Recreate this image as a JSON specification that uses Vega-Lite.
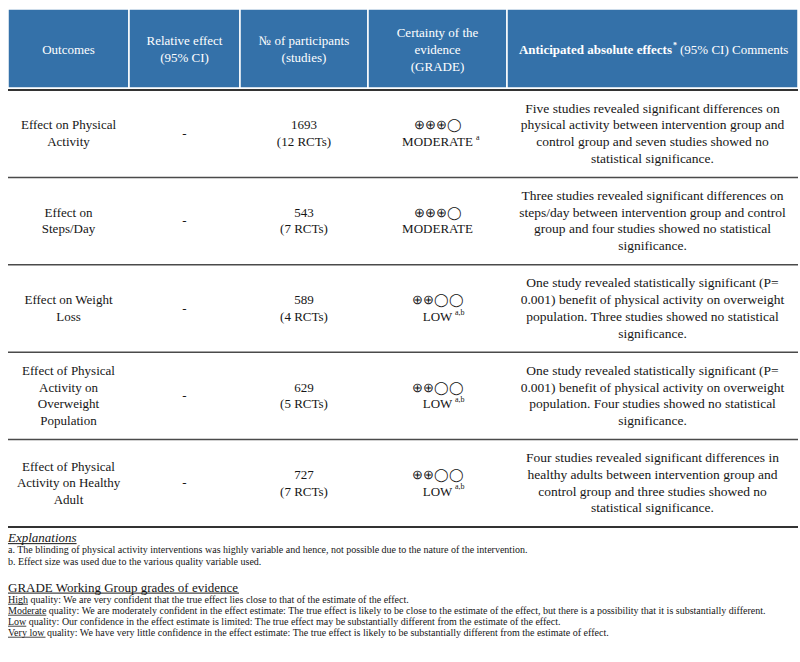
{
  "$schema": "https://vega.github.io/schema/vega-lite/v6.json",
  "background": "white",
  "padding": {"left": 7, "top": 8, "right": 0, "bottom": 0},
  "spacing": 0,
  "config": {
    "font": "Liberation Serif",
    "view": {"stroke": null},
    "concat": {"spacing": 0},
    "text": {"font": "Liberation Serif", "fontSize": 13, "color": "#161616"}
  },
  "datasets": {
    "header": [
      {"col": "outcome", "part": "main", "text": "Outcomes"},
      {"col": "relative", "part": "main", "text": "Relative effect\n(95% CI)"},
      {"col": "participants", "part": "main", "text": "№ of participants\n(studies)"},
      {"col": "certainty", "part": "main", "text": "Certainty of the\nevidence\n(GRADE)"},
      {"col": "comments", "part": "bold", "text": "Anticipated absolute effects"},
      {"col": "comments", "part": "star", "text": "*"},
      {"col": "comments", "part": "rest", "text": "(95% CI) Comments"}
    ],
    "cells": [
      {"row": "r1", "col": "outcome", "text": "Effect on Physical\nActivity"},
      {"row": "r1", "col": "relative", "text": "-"},
      {"row": "r1", "col": "participants", "text": "1693\n(12 RCTs)"},
      {"row": "r1", "col": "certainty", "text": "⊕⊕⊕◯\nMODERATE", "sup": "a"},
      {"row": "r1", "col": "comments", "text": "Five studies revealed significant differences on\nphysical activity between intervention group and\ncontrol group and seven studies showed no\nstatistical significance."},
      {"row": "r2", "col": "outcome", "text": "Effect on\nSteps/Day"},
      {"row": "r2", "col": "relative", "text": "-"},
      {"row": "r2", "col": "participants", "text": "543\n(7 RCTs)"},
      {"row": "r2", "col": "certainty", "text": "⊕⊕⊕◯\nMODERATE", "sup": ""},
      {"row": "r2", "col": "comments", "text": "Three studies revealed significant differences on\nsteps/day between intervention group and control\ngroup and four studies showed no statistical\nsignificance."},
      {"row": "r3", "col": "outcome", "text": "Effect on Weight\nLoss"},
      {"row": "r3", "col": "relative", "text": "-"},
      {"row": "r3", "col": "participants", "text": "589\n(4 RCTs)"},
      {"row": "r3", "col": "certainty", "text": "⊕⊕◯◯\nLOW", "sup": "a,b"},
      {"row": "r3", "col": "comments", "text": "One study revealed statistically significant (P=\n0.001) benefit of physical activity on overweight\npopulation. Three studies showed no statistical\nsignificance."},
      {"row": "r4", "col": "outcome", "text": "Effect of Physical\nActivity on\nOverweight\nPopulation"},
      {"row": "r4", "col": "relative", "text": "-"},
      {"row": "r4", "col": "participants", "text": "629\n(5 RCTs)"},
      {"row": "r4", "col": "certainty", "text": "⊕⊕◯◯\nLOW", "sup": "a,b"},
      {"row": "r4", "col": "comments", "text": "One study revealed statistically significant (P=\n0.001) benefit of physical activity on overweight\npopulation. Four studies showed no statistical\nsignificance."},
      {"row": "r5", "col": "outcome", "text": "Effect of Physical\nActivity on Healthy\nAdult"},
      {"row": "r5", "col": "relative", "text": "-"},
      {"row": "r5", "col": "participants", "text": "727\n(7 RCTs)"},
      {"row": "r5", "col": "certainty", "text": "⊕⊕◯◯\nLOW", "sup": "a,b"},
      {"row": "r5", "col": "comments", "text": "Four studies revealed significant differences in\nhealthy adults between intervention group and\ncontrol group and three studies showed no\nstatistical significance."}
    ],
    "notes": [
      {"block": "expl", "line": "e0", "text": "Explanations"},
      {"block": "expl", "line": "e1", "text": "a. The blinding of physical activity interventions was highly variable and hence, not possible due to the nature of the intervention."},
      {"block": "expl", "line": "e2", "text": "b. Effect size was used due to the various quality variable used."},
      {"block": "grade", "line": "g0", "text": "GRADE Working Group grades of evidence"},
      {"block": "grade", "line": "g1", "text": "High quality: We are very confident that the true effect lies close to that of the estimate of the effect."},
      {"block": "grade", "line": "g2", "text": "Moderate quality: We are moderately confident in the effect estimate: The true effect is likely to be close to the estimate of the effect, but there is a possibility that it is substantially different."},
      {"block": "grade", "line": "g3", "text": "Low quality: Our confidence in the effect estimate is limited: The true effect may be substantially different from the estimate of the effect."},
      {"block": "grade", "line": "g4", "text": "Very low quality: We have very little confidence in the effect estimate: The true effect is likely to be substantially different from the estimate of effect."}
    ]
  },
  "vconcat": [
    {
      "spacing": 0,
      "bounds": "flush",
      "hconcat": [
        {
          "width": 121, "height": 79,
          "view": {"fill": "#3471A9", "stroke": "#ffffff", "strokeWidth": 1.5},
          "data": {"name": "header"},
          "transform": [{"filter": "datum.col == 'outcome'"}],
          "mark": {"type": "text", "color": "#ffffff", "lineBreak": "\n", "lineHeight": 17, "dy": 1},
          "encoding": {"text": {"field": "text", "type": "nominal"}}
        },
        {
          "width": 111, "height": 79,
          "view": {"fill": "#3471A9", "stroke": "#ffffff", "strokeWidth": 1.5},
          "data": {"name": "header"},
          "transform": [{"filter": "datum.col == 'relative'"}],
          "mark": {"type": "text", "color": "#ffffff", "lineBreak": "\n", "lineHeight": 17, "dy": -7.5},
          "encoding": {"text": {"field": "text", "type": "nominal"}}
        },
        {
          "width": 128, "height": 79,
          "view": {"fill": "#3471A9", "stroke": "#ffffff", "strokeWidth": 1.5},
          "data": {"name": "header"},
          "transform": [{"filter": "datum.col == 'participants'"}],
          "mark": {"type": "text", "color": "#ffffff", "lineBreak": "\n", "lineHeight": 17, "dy": -7.5},
          "encoding": {"text": {"field": "text", "type": "nominal"}}
        },
        {
          "width": 139, "height": 79,
          "view": {"fill": "#3471A9", "stroke": "#ffffff", "strokeWidth": 1.5},
          "data": {"name": "header"},
          "transform": [{"filter": "datum.col == 'certainty'"}],
          "mark": {"type": "text", "color": "#ffffff", "lineBreak": "\n", "lineHeight": 17, "dy": -16},
          "encoding": {"text": {"field": "text", "type": "nominal"}}
        },
        {
          "width": 291, "height": 79,
          "view": {"fill": "#3471A9", "stroke": "#ffffff", "strokeWidth": 1.5},
          "data": {"name": "header"},
          "transform": [{"filter": "datum.col == 'comments'"}],
          "layer": [
            {
              "transform": [{"filter": "datum.part == 'bold'"}],
              "mark": {"type": "text", "color": "#ffffff", "fontWeight": "bold", "align": "right", "dx": 19.5, "dy": 1},
              "encoding": {"text": {"field": "text", "type": "nominal"}}
            },
            {
              "transform": [{"filter": "datum.part == 'star'"}],
              "mark": {"type": "text", "color": "#ffffff", "fontWeight": "bold", "fontSize": 8, "align": "left", "dx": 20.5, "dy": -3},
              "encoding": {"text": {"field": "text", "type": "nominal"}}
            },
            {
              "transform": [{"filter": "datum.part == 'rest'"}],
              "mark": {"type": "text", "color": "#ffffff", "align": "left", "dx": 27.5, "dy": 1},
              "encoding": {"text": {"field": "text", "type": "nominal"}}
            }
          ]
        }
      ]
    },
    {
      "spacing": 0,
      "bounds": "flush",
      "hconcat": [
        {
          "width": 121, "height": 437,
          "data": {"name": "cells"},
          "transform": [{"filter": "datum.col == 'outcome'"}],
          "layer": [
            {"transform": [{"filter": "length(split(datum.text, '\\n')) == 2"}],
             "mark": {"type": "text", "lineBreak": "\n", "lineHeight": 16.7, "dy": -8.35},
             "encoding": {"y": {"field": "row", "type": "nominal", "scale": {"type": "band", "domain": ["r1", "r2", "r3", "r4", "r5"], "paddingInner": 0, "paddingOuter": 0}, "axis": null}, "text": {"field": "text", "type": "nominal"}}},
            {"transform": [{"filter": "length(split(datum.text, '\\n')) == 3"}],
             "mark": {"type": "text", "lineBreak": "\n", "lineHeight": 16.7, "dy": -16.7},
             "encoding": {"y": {"field": "row", "type": "nominal", "axis": null}, "text": {"field": "text", "type": "nominal"}}},
            {"transform": [{"filter": "length(split(datum.text, '\\n')) == 4"}],
             "mark": {"type": "text", "lineBreak": "\n", "lineHeight": 16.7, "dy": -25.05},
             "encoding": {"y": {"field": "row", "type": "nominal", "axis": null}, "text": {"field": "text", "type": "nominal"}}},
            {"transform": [{"filter": "datum.row != 'r5'"}], "mark": {"type": "rule", "color": "#4a4a4a", "strokeWidth": 1.5},
             "encoding": {"y": {"field": "row", "type": "nominal", "bandPosition": 1, "axis": null}}},
            {"transform": [{"filter": "datum.row == 'r1'"}], "mark": {"type": "rule", "color": "#333333", "strokeWidth": 2},
             "encoding": {"y": {"field": "row", "type": "nominal", "bandPosition": 0, "axis": null}}},
            {"transform": [{"filter": "datum.row == 'r5'"}], "mark": {"type": "rule", "color": "#333333", "strokeWidth": 2},
             "encoding": {"y": {"field": "row", "type": "nominal", "bandPosition": 1, "axis": null}}}
          ]
        },
        {
          "width": 111, "height": 437,
          "data": {"name": "cells"},
          "transform": [{"filter": "datum.col == 'relative'"}],
          "layer": [
            {"mark": {"type": "text", "lineBreak": "\n", "lineHeight": 16.7},
             "encoding": {"y": {"field": "row", "type": "nominal", "scale": {"type": "band", "domain": ["r1", "r2", "r3", "r4", "r5"], "paddingInner": 0, "paddingOuter": 0}, "axis": null}, "text": {"field": "text", "type": "nominal"}}},
            {"transform": [{"filter": "datum.row != 'r5'"}], "mark": {"type": "rule", "color": "#4a4a4a", "strokeWidth": 1.5},
             "encoding": {"y": {"field": "row", "type": "nominal", "bandPosition": 1, "axis": null}}},
            {"transform": [{"filter": "datum.row == 'r1'"}], "mark": {"type": "rule", "color": "#333333", "strokeWidth": 2},
             "encoding": {"y": {"field": "row", "type": "nominal", "bandPosition": 0, "axis": null}}},
            {"transform": [{"filter": "datum.row == 'r5'"}], "mark": {"type": "rule", "color": "#333333", "strokeWidth": 2},
             "encoding": {"y": {"field": "row", "type": "nominal", "bandPosition": 1, "axis": null}}}
          ]
        },
        {
          "width": 128, "height": 437,
          "data": {"name": "cells"},
          "transform": [{"filter": "datum.col == 'participants'"}],
          "layer": [
            {"mark": {"type": "text", "lineBreak": "\n", "lineHeight": 16.7, "dy": -8.35},
             "encoding": {"y": {"field": "row", "type": "nominal", "scale": {"type": "band", "domain": ["r1", "r2", "r3", "r4", "r5"], "paddingInner": 0, "paddingOuter": 0}, "axis": null}, "text": {"field": "text", "type": "nominal"}}},
            {"transform": [{"filter": "datum.row != 'r5'"}], "mark": {"type": "rule", "color": "#4a4a4a", "strokeWidth": 1.5},
             "encoding": {"y": {"field": "row", "type": "nominal", "bandPosition": 1, "axis": null}}},
            {"transform": [{"filter": "datum.row == 'r1'"}], "mark": {"type": "rule", "color": "#333333", "strokeWidth": 2},
             "encoding": {"y": {"field": "row", "type": "nominal", "bandPosition": 0, "axis": null}}},
            {"transform": [{"filter": "datum.row == 'r5'"}], "mark": {"type": "rule", "color": "#333333", "strokeWidth": 2},
             "encoding": {"y": {"field": "row", "type": "nominal", "bandPosition": 1, "axis": null}}}
          ]
        },
        {
          "width": 139, "height": 437,
          "data": {"name": "cells"},
          "transform": [{"filter": "datum.col == 'certainty'"}],
          "layer": [
            {"mark": {"type": "text", "lineBreak": "\n", "lineHeight": 16.7, "dy": -8.35},
             "encoding": {"y": {"field": "row", "type": "nominal", "scale": {"type": "band", "domain": ["r1", "r2", "r3", "r4", "r5"], "paddingInner": 0, "paddingOuter": 0}, "axis": null}, "text": {"field": "text", "type": "nominal"}}},
            {"transform": [{"filter": "datum.sup == 'a'"}], "mark": {"type": "text", "fontSize": 8, "align": "left", "dx": 38.5, "dy": 4},
             "encoding": {"y": {"field": "row", "type": "nominal", "axis": null}, "text": {"field": "sup", "type": "nominal"}}},
            {"transform": [{"filter": "datum.sup == 'a,b'"}], "mark": {"type": "text", "fontSize": 8, "align": "left", "dx": 17.5, "dy": 4},
             "encoding": {"y": {"field": "row", "type": "nominal", "axis": null}, "text": {"field": "sup", "type": "nominal"}}},
            {"transform": [{"filter": "datum.row != 'r5'"}], "mark": {"type": "rule", "color": "#4a4a4a", "strokeWidth": 1.5},
             "encoding": {"y": {"field": "row", "type": "nominal", "bandPosition": 1, "axis": null}}},
            {"transform": [{"filter": "datum.row == 'r1'"}], "mark": {"type": "rule", "color": "#333333", "strokeWidth": 2},
             "encoding": {"y": {"field": "row", "type": "nominal", "bandPosition": 0, "axis": null}}},
            {"transform": [{"filter": "datum.row == 'r5'"}], "mark": {"type": "rule", "color": "#333333", "strokeWidth": 2},
             "encoding": {"y": {"field": "row", "type": "nominal", "bandPosition": 1, "axis": null}}}
          ]
        },
        {
          "width": 291, "height": 437,
          "data": {"name": "cells"},
          "transform": [{"filter": "datum.col == 'comments'"}],
          "layer": [
            {"mark": {"type": "text", "fontSize": 13.5, "lineBreak": "\n", "lineHeight": 16.7, "dy": -25.05},
             "encoding": {"y": {"field": "row", "type": "nominal", "scale": {"type": "band", "domain": ["r1", "r2", "r3", "r4", "r5"], "paddingInner": 0, "paddingOuter": 0}, "axis": null}, "text": {"field": "text", "type": "nominal"}}},
            {"transform": [{"filter": "datum.row != 'r5'"}], "mark": {"type": "rule", "color": "#4a4a4a", "strokeWidth": 1.5},
             "encoding": {"y": {"field": "row", "type": "nominal", "bandPosition": 1, "axis": null}}},
            {"transform": [{"filter": "datum.row == 'r1'"}], "mark": {"type": "rule", "color": "#333333", "strokeWidth": 2},
             "encoding": {"y": {"field": "row", "type": "nominal", "bandPosition": 0, "axis": null}}},
            {"transform": [{"filter": "datum.row == 'r5'"}], "mark": {"type": "rule", "color": "#333333", "strokeWidth": 2},
             "encoding": {"y": {"field": "row", "type": "nominal", "bandPosition": 1, "axis": null}}}
          ]
        }
      ]
    },
    {
      "width": 790, "height": 44.5,
      "data": {"name": "notes"},
      "transform": [{"filter": "datum.block == 'expl'"}],
      "layer": [
        {"transform": [{"filter": "datum.line == 'e0'"}],
         "mark": {"type": "text", "align": "left", "fontStyle": "italic", "fontSize": 13, "x": 0},
         "encoding": {"y": {"field": "line", "type": "nominal", "scale": {"type": "band", "domain": ["e0", "e1", "e2"], "paddingInner": 0, "paddingOuter": 0.354}, "axis": null}, "text": {"field": "text", "type": "nominal"}}},
        {"transform": [{"filter": "datum.line != 'e0'"}],
         "mark": {"type": "text", "align": "left", "fontSize": 10, "x": 0},
         "encoding": {"y": {"field": "line", "type": "nominal", "axis": null}, "text": {"field": "text", "type": "nominal"}}},
        {"transform": [{"filter": "datum.line == 'e0'"}],
         "mark": {"type": "rule", "color": "#161616", "strokeWidth": 1, "x": 0, "x2": 68.6},
         "encoding": {"y": {"field": "line", "type": "nominal", "bandPosition": 0.95, "axis": null}}}
      ]
    },
    {
      "width": 790, "height": 76.5,
      "data": {"name": "notes"},
      "transform": [{"filter": "datum.block == 'grade'"}],
      "layer": [
        {"transform": [{"filter": "datum.line == 'g0'"}],
         "mark": {"type": "text", "align": "left", "fontSize": 13, "x": 0, "dy": -1.5},
         "encoding": {"y": {"field": "line", "type": "nominal", "scale": {"type": "band", "domain": ["g0", "g1", "g2", "g3", "g4"], "paddingInner": 0, "paddingOuter": 0.977}, "axis": null}, "text": {"field": "text", "type": "nominal"}}},
        {"transform": [{"filter": "datum.line != 'g0'"}],
         "mark": {"type": "text", "align": "left", "fontSize": 10, "x": 0},
         "encoding": {"y": {"field": "line", "type": "nominal", "axis": null}, "text": {"field": "text", "type": "nominal"}}},
        {"transform": [{"filter": "datum.line == 'g0'"}],
         "mark": {"type": "rule", "color": "#161616", "strokeWidth": 1, "x": 0, "x2": 231},
         "encoding": {"y": {"field": "line", "type": "nominal", "bandPosition": 0.85, "axis": null}}},
        {"transform": [{"filter": "datum.line == 'g1'"}],
         "mark": {"type": "rule", "color": "#161616", "strokeWidth": 0.8, "x": 0, "x2": 20},
         "encoding": {"y": {"field": "line", "type": "nominal", "bandPosition": 0.86, "axis": null}}},
        {"transform": [{"filter": "datum.line == 'g2'"}],
         "mark": {"type": "rule", "color": "#161616", "strokeWidth": 0.8, "x": 0, "x2": 38.3},
         "encoding": {"y": {"field": "line", "type": "nominal", "bandPosition": 0.86, "axis": null}}},
        {"transform": [{"filter": "datum.line == 'g3'"}],
         "mark": {"type": "rule", "color": "#161616", "strokeWidth": 0.8, "x": 0, "x2": 18.3},
         "encoding": {"y": {"field": "line", "type": "nominal", "bandPosition": 0.86, "axis": null}}},
        {"transform": [{"filter": "datum.line == 'g4'"}],
         "mark": {"type": "rule", "color": "#161616", "strokeWidth": 0.8, "x": 0, "x2": 37.5},
         "encoding": {"y": {"field": "line", "type": "nominal", "bandPosition": 0.86, "axis": null}}}
      ]
    }
  ]
}
